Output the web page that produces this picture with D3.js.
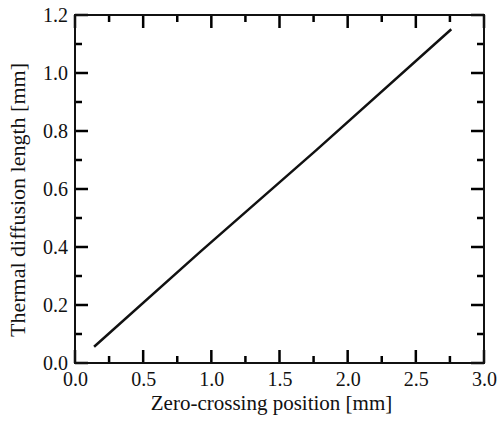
<!DOCTYPE html>
<html>
<head>
<meta charset="utf-8">
<script src="https://cdn.jsdelivr.net/npm/d3@7"></script>
<style>
  body { margin: 0; background: #fff; }
  svg text { font-family: "Liberation Serif", "DejaVu Serif", "Times New Roman", serif; fill: #111; }
</style>
</head>
<body>
<svg id="chart" width="499" height="422"></svg>
<script>
// Line data
const positions = [0.14, 0.92, 1.77, 2.76];
const diffLengths = [0.056, 0.384, 0.734, 1.151];

const xTicks = [0.0, 0.5, 1.0, 1.5, 2.0, 2.5, 3.0];
const yTicks = [0.0, 0.2, 0.4, 0.6, 0.8, 1.0, 1.2];
const xMinor = [0.25, 0.75, 1.25, 1.75, 2.25, 2.75];
const yMinor = [0.1, 0.3, 0.5, 0.7, 0.9, 1.1];

const svg = d3.select("#chart");
const margin = { left: 75, right: 15, top: 15, bottom: 59 };
const width = 499 - margin.left - margin.right,
  height = 422 - margin.top - margin.bottom;

const g = svg.append("g").attr("transform", `translate(${margin.left},${margin.top})`);

const x = d3.scaleLinear().domain([0, 3]).range([0, width]);
const y = d3.scaleLinear().domain([0, 1.2]).range([height, 0]);

const fmt = d3.format(".1f");

// tick labels from the d3 axes
const bottom = g.append("g")
  .attr("transform", `translate(0,${height})`)
  .call(d3.axisBottom(x).tickValues(xTicks).tickFormat(fmt).tickSize(0).tickPadding(9));
const left = g.append("g")
  .call(d3.axisLeft(y).tickValues(yTicks).tickFormat(fmt).tickSize(0).tickPadding(7));
[bottom, left].forEach((a) => {
  a.select(".domain").remove();
  a.attr("font-family", null);
  a.selectAll("text").attr("font-size", 20);
});

// tick marks on all four sides, pointing inwards, as one path
function xMarks(vals, len) {
  return vals.map((d) => `M${x(d)},${height}v${-len}M${x(d)},0v${len}`).join("");
}
function yMarks(vals, len) {
  return vals.map((d) => `M0,${y(d)}h${len}M${width},${y(d)}h${-len}`).join("");
}
g.append("path")
  .attr("d", xMarks(xTicks, 13) + xMarks(xMinor, 7) + yMarks(yTicks, 13) + yMarks(yMinor, 7))
  .attr("fill", "none")
  .attr("stroke", "#000")
  .attr("stroke-width", 2.5);

// frame
g.append("rect")
  .attr("width", width)
  .attr("height", height)
  .attr("fill", "none")
  .attr("stroke", "#111")
  .attr("stroke-width", 2);

// the data line
const pts = positions.map((p, i) => [p, diffLengths[i]]);
g.append("path")
  .datum(pts)
  .attr("fill", "none")
  .attr("stroke", "#111")
  .attr("stroke-width", 2.5)
  .attr("d", d3.line().x((d) => x(d[0])).y((d) => y(d[1])));

// axis titles
g.append("text")
  .attr("x", width / 2 - 8)
  .attr("y", height + 47)
  .attr("text-anchor", "middle")
  .attr("font-size", 21)
  .text("Zero-crossing position [mm]");

g.append("text")
  .attr("transform", `translate(${-50},${height / 2 + 11}) rotate(-90)`)
  .attr("text-anchor", "middle")
  .attr("font-size", 22)
  .text("Thermal diffusion length [mm]");
</script>
</body>
</html>
